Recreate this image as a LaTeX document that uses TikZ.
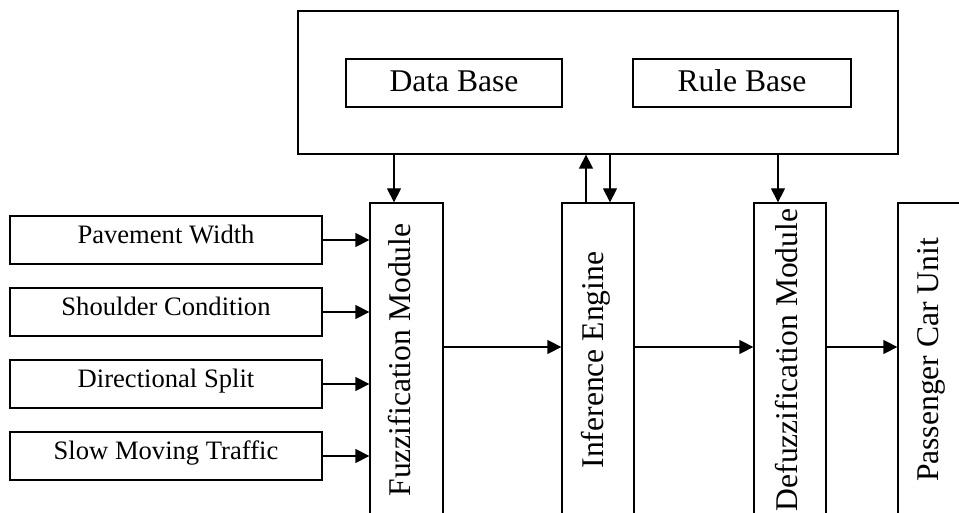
\documentclass[tikz,border=0pt]{standalone}
\usepackage{fontspec}
\setmainfont{Liberation Serif}
\usetikzlibrary{arrows.meta,calc}
\begin{document}
\begin{tikzpicture}[x=1pt,y=-1pt,
  box/.style={draw,line width=1.3pt,inner sep=0pt},
  big/.style={font=\fontsize{31.6}{36}\selectfont},
  small/.style={font=\fontsize{26.6}{30}\selectfont},
  inbox/.style={box,small,minimum width=312pt,text height=27.5pt,text depth=20.5pt},
  stage/.style={box,big,rotate=90,minimum width=314pt},
  arr/.style={line width=1.3pt,-{Triangle[length=14pt,width=14pt]}}]
  \useasboundingbox (0,0) rectangle (959,513);
  \clip (0,0) rectangle (959,513);

  % knowledge base with its two parts
  \node[box,minimum width=600pt,minimum height=143pt] (kb) at (598,82.5) {};
  \node[box,big,minimum width=216pt,text height=33pt,text depth=15pt] (db) at (454,83) {Data Base};
  \node[box,big,minimum width=218pt,text height=33pt,text depth=15pt] (rb) at (742,83) {Rule Base};

  % input variables
  \node[inbox] (pw) at (166,240) {Pavement Width};
  \node[inbox] (sc) at (166,312) {Shoulder Condition};
  \node[inbox] (ds) at (166,384) {Directional Split};
  \node[inbox] (sm) at (166,456) {Slow Moving Traffic};

  % processing stages (tall boxes, text reading upwards)
  \node[stage,text height=40pt,text depth=33pt] (fz) at (406.5,360) {Fuzzification Module};
  \node[stage,text height=41pt,text depth=31pt] (ie) at (598,360) {Inference Engine};
  \node[stage,text height=43pt,text depth=29pt] (dz) at (790,360) {Defuzzification Module};
  \node[stage,text height=40pt,text depth=32pt] (pc) at (934,360) {Passenger Car Unit};

  % inputs into fuzzification
  \foreach \n in {pw,sc,ds,sm}
    \draw[arr] (\n.east) -- (\n.east -| fz.north);

  % links with the knowledge base
  \path ($(fz.east)+(-12.5,0)$) coordinate (fzin);
  \draw[arr] (kb.south -| fzin) -- (fzin);
  \path ($(ie.east)+(-12,0)$) coordinate (ieup);
  \draw[arr] (ieup) -- (kb.south -| ieup);
  \path ($(ie.east)+(12,0)$) coordinate (iein);
  \draw[arr] (kb.south -| iein) -- (iein);
  \path ($(dz.east)+(-12,0)$) coordinate (dzin);
  \draw[arr] (kb.south -| dzin) -- (dzin);

  % main flow
  \coordinate (lvl) at (0,347);
  \draw[arr] (fz.south |- lvl) -- (ie.north |- lvl);
  \draw[arr] (ie.south |- lvl) -- (dz.north |- lvl);
  \draw[arr] (dz.south |- lvl) -- (pc.north |- lvl);
\end{tikzpicture}
\end{document}
